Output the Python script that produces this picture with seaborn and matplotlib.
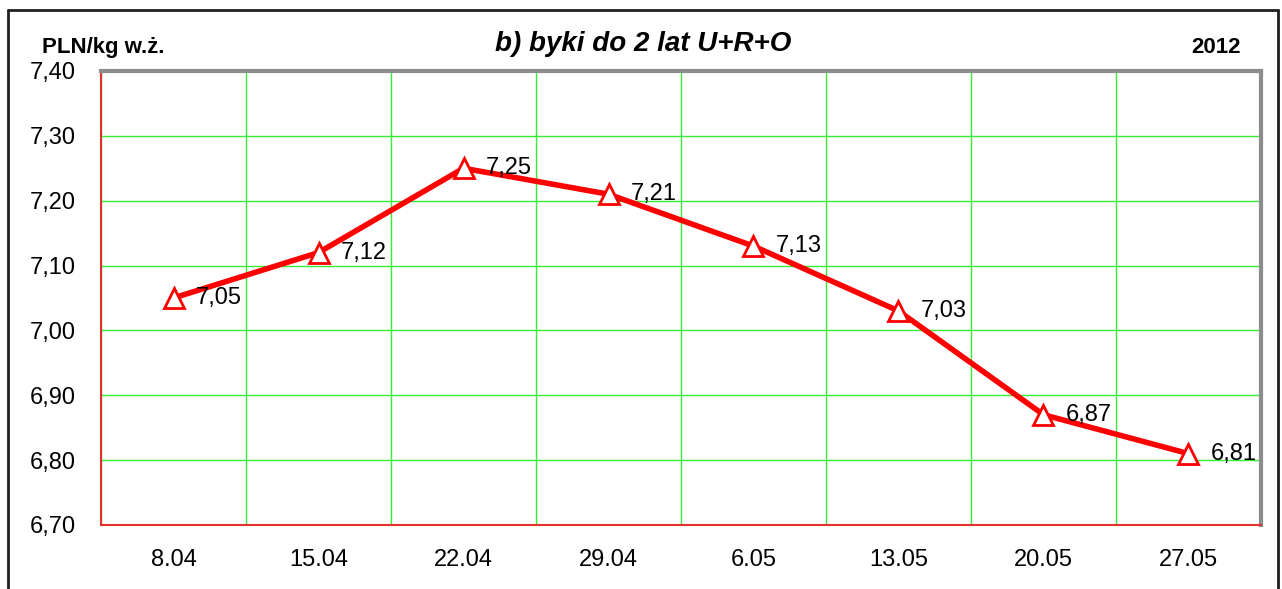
import matplotlib
matplotlib.use('Agg')
import matplotlib.pyplot as plt
import matplotlib.ticker as ticker
from matplotlib.lines import Line2D
import seaborn as sns
import numpy as np

dates = ['8.04', '15.04', '22.04', '29.04', '6.05', '13.05', '20.05', '27.05']
prices = [7.05, 7.12, 7.25, 7.21, 7.13, 7.03, 6.87, 6.81]
price_labels = ['7,05', '7,12', '7,25', '7,21', '7,13', '7,03', '6,87', '6,81']
y_ticks = [6.70, 6.80, 6.90, 7.00, 7.10, 7.20, 7.30, 7.40]

def main():
	sns.set_style('white')
	plt.rcParams['font.family'] = ['Liberation Sans', 'DejaVu Sans']
	plt.rcParams['text.color'] = 'black'
	plt.rcParams['xtick.color'] = 'black'
	plt.rcParams['ytick.color'] = 'black'

	fig = plt.figure(figsize=(12.82, 5.89), dpi=100)
	ax = fig.add_axes([0.0788, 0.1087, 0.9048, 0.7708])

	pos = np.arange(len(dates))
	sns.lineplot(x=pos, y=prices, ax=ax, color='#ff0000', lw=4, marker='^',
		markersize=15, markerfacecolor='white', markeredgecolor='#ff0000',
		markeredgewidth=2)

	for x, y, lab in zip(pos, prices, price_labels):
		ax.annotate(lab, (x, y), xytext=(16, 0), textcoords='offset points',
			ha='left', va='center', fontsize=17, color='black')

	ax.set_xlim(-0.5, len(dates) - 0.5)
	ax.set_ylim(6.70, 7.40)
	ax.set_yticks(y_ticks)
	ax.set_yticklabels([('%.2f' % v).replace('.', ',') for v in y_ticks])

	# category boundaries carry the grid, centres carry the labels
	ax.xaxis.set_major_locator(ticker.FixedLocator(np.arange(-0.5, len(dates))))
	ax.xaxis.set_major_formatter(ticker.NullFormatter())
	ax.xaxis.set_minor_locator(ticker.FixedLocator(pos))
	ax.xaxis.set_minor_formatter(ticker.FixedFormatter(dates))
	ax.tick_params(axis='x', which='minor', length=0, pad=17, labelsize=17)
	ax.tick_params(axis='x', which='major', length=6, color='#ff0000', direction='out')
	ax.tick_params(axis='y', length=8, color='#ff0000', direction='out', pad=10, labelsize=17)
	ax.grid(True, which='major', color='#33ee33', lw=1)
	ax.set_axisbelow(True)

	for side in ['top', 'right']:
		ax.spines[side].set_color('#8c8c8c')
		ax.spines[side].set_linewidth(3)
	for side in ['left', 'bottom']:
		ax.spines[side].set_color('#e03030')
		ax.spines[side].set_linewidth(1.5)

	fig.text(0.502, 0.925, 'b) byki do 2 lat U+R+O', ha='center', va='center',
		fontsize=20, fontweight='bold', fontstyle='italic')
	fig.text(0.033, 0.92, 'PLN/kg w.ż.', ha='left', va='center', fontsize=16, fontweight='bold')
	fig.text(0.968, 0.92, '2012', ha='right', va='center', fontsize=16, fontweight='bold')

	# outer chart frame
	fx0, fx1, fy1 = 8 / 1282, 1278 / 1282, 1 - 10 / 589
	for xs, ys in [([fx0, fx0], [0, fy1]), ([fx0, fx1], [fy1, fy1]), ([fx1, fx1], [fy1, 0])]:
		fig.add_artist(Line2D(xs, ys, color='#202020', lw=2, transform=fig.transFigure))

	fig.savefig('out.png', dpi=100)

if __name__ == '__main__':
	main()
